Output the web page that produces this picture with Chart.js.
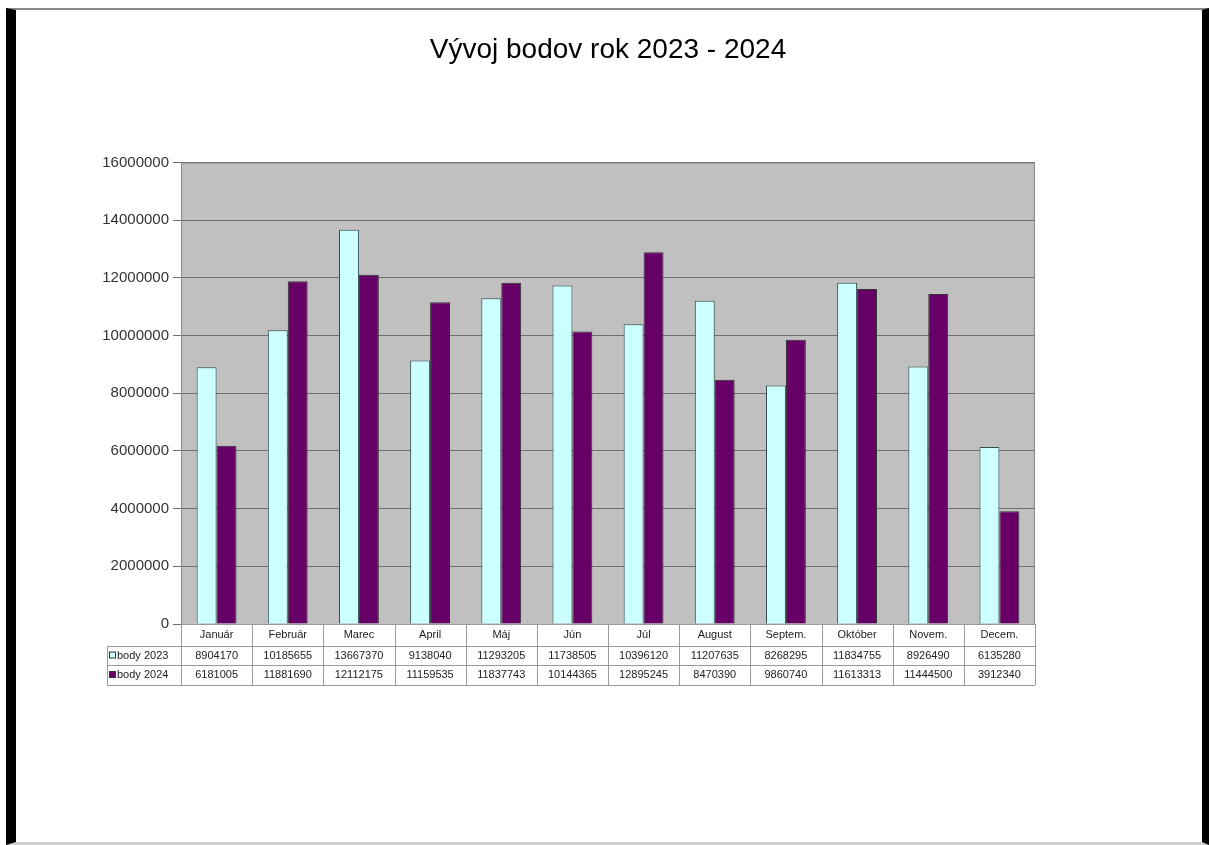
<!DOCTYPE html>
<html>
<head>
<meta charset="utf-8">
<script src="https://cdn.jsdelivr.net/npm/chart.js@4/dist/chart.umd.min.js"></script>
<style>
  body { margin: 0; background: #fff; overflow: hidden; }
  #frame {
    position: absolute; left: 6px; top: 8px; width: 1186px; height: 832px;
    border-left: 10px solid #000; border-right: 7px solid #000;
    border-top: 2px solid #8a8a8a; border-bottom: 3px solid #cfcfcf;
  }
  #wrap { position: absolute; left: 0; top: 0; width: 1209px; height: 845px; }
</style>
</head>
<body>
<div id="frame"></div>
<div id="wrap"><canvas id="chart" width="1209" height="845"></canvas></div>
<script>
const months = ["Január", "Február", "Marec", "April", "Máj", "Jún", "Júl", "August", "Septem.", "Október", "Novem.", "Decem."];
const body2023 = [8904170, 10185655, 13667370, 9138040, 11293205, 11738505, 10396120, 11207635, 8268295, 11834755, 8926490, 6135280];
const body2024 = [6181005, 11881690, 12112175, 11159535, 11837743, 10144365, 12895245, 8470390, 9860740, 11613313, 11444500, 3912340];
const yTicks = [0, 2000000, 4000000, 6000000, 8000000, 10000000, 12000000, 14000000, 16000000];

const FONT = "'Liberation Sans', Arial, sans-serif";

// gray plot background like the old Excel charts
const plotBg = {
  id: "plotBg",
  beforeDraw(chart) {
    const { ctx, chartArea: a } = chart;
    ctx.save();
    ctx.fillStyle = "#c0c0c0";
    ctx.fillRect(a.left, a.top, a.right - a.left, a.bottom - a.top);
    ctx.restore();
  },
  afterDatasetsDraw(chart) {
    const { ctx, chartArea: a } = chart;
    ctx.save();
    ctx.strokeStyle = "#8c8c8c";
    ctx.lineWidth = 1;
    ctx.strokeRect(a.left + 0.5, a.top + 0.5, a.right - a.left - 1, a.bottom - a.top);
    ctx.restore();
  }
};

// data table under the plot
const dataTable = {
  id: "dataTable",
  afterDraw(chart) {
    const { ctx } = chart;
    const xs = chart.scales.x;
    const n = months.length;
    const colW = (xs.right - xs.left) / n;
    const top = chart.chartArea.bottom;
    const rows = [top, top + 22, top + 41, top + 61];
    const legLeft = 107;
    ctx.save();
    ctx.strokeStyle = "#9a9a9a";
    ctx.lineWidth = 1;
    ctx.beginPath();
    ctx.moveTo(xs.left, rows[0] + 0.5); ctx.lineTo(xs.right, rows[0] + 0.5);
    for (let r = 1; r < rows.length; r++) {
      ctx.moveTo(legLeft, rows[r] + 0.5); ctx.lineTo(xs.right, rows[r] + 0.5);
    }
    for (let i = 0; i <= n; i++) {
      const x = Math.round(xs.left + i * colW) + 0.5;
      ctx.moveTo(x, rows[0]); ctx.lineTo(x, rows[3]);
    }
    ctx.moveTo(legLeft + 0.5, rows[1]); ctx.lineTo(legLeft + 0.5, rows[3]);
    ctx.stroke();

    ctx.fillStyle = "#222";
    ctx.font = "11px " + FONT;
    ctx.textAlign = "center";
    ctx.textBaseline = "middle";
    const series = [body2023, body2024];
    for (let i = 0; i < n; i++) {
      const cx = xs.left + (i + 0.5) * colW;
      ctx.fillText(months[i], cx, (rows[0] + rows[1]) / 2);
      for (let s = 0; s < 2; s++) {
        ctx.fillText(String(series[s][i]), cx, (rows[s + 1] + rows[s + 2]) / 2);
      }
    }
    // legend keys
    const ds = chart.data.datasets;
    ctx.textAlign = "left";
    for (let s = 0; s < 2; s++) {
      const cy = (rows[s + 1] + rows[s + 2]) / 2;
      ctx.fillStyle = ds[s].backgroundColor;
      ctx.fillRect(109.5, cy - 3.5, 6, 6);
      ctx.strokeStyle = "#333";
      ctx.strokeRect(109.5, cy - 3.5, 6, 6);
      ctx.fillStyle = "#222";
      ctx.fillText(ds[s].label, 117, cy);
    }
    ctx.restore();
  }
};

new Chart(document.getElementById("chart"), {
  type: "bar",
  data: {
    labels: months,
    datasets: [
      { label: "body 2023", data: body2023, backgroundColor: "#ccffff", borderColor: "#2f4f4f", borderWidth: 1 },
      { label: "body 2024", data: body2024, backgroundColor: "#660066", borderColor: "#333333", borderWidth: 1 }
    ]
  },
  options: {
    responsive: false,
    animation: false,
    layout: { padding: { left: 7, right: 0, top: 33, bottom: 160 } },
    categoryPercentage: 0.56,
    barPercentage: 1,
    plugins: {
      legend: { display: false },
      tooltip: { enabled: false },
      title: {
        display: true,
        text: "Vývoj bodov rok 2023 - 2024",
        color: "#000",
        font: { family: FONT, size: 28, weight: "normal" },
        padding: { top: 0, bottom: 96 }
      }
    },
    scales: {
      x: {
        grid: { display: false },
        border: { display: false },
        ticks: { display: false },
        afterFit(scale) { scale.height = 61; }
      },
      y: {
        min: 0,
        max: 16000000,
        afterBuildTicks(scale) { scale.ticks = yTicks.map(v => ({ value: v })); },
        afterFit(scale) { scale.width = 174; },
        grid: { color: "#6e6e6e", lineWidth: 1, tickLength: 8, drawTicks: true },
        border: { color: "#8c8c8c" },
        ticks: {
          color: "#333",
          font: { family: FONT, size: 15 },
          padding: 4,
          callback: v => String(v)
        }
      },
      // empty right-hand spacer so the title centres over the plot
      yRight: {
        position: "right",
        display: true,
        grid: { display: false, drawTicks: false },
        border: { display: false },
        ticks: { display: false },
        afterFit(scale) { scale.width = 174; }
      }
    }
  },
  plugins: [plotBg, dataTable]
});
</script>
</body>
</html>
